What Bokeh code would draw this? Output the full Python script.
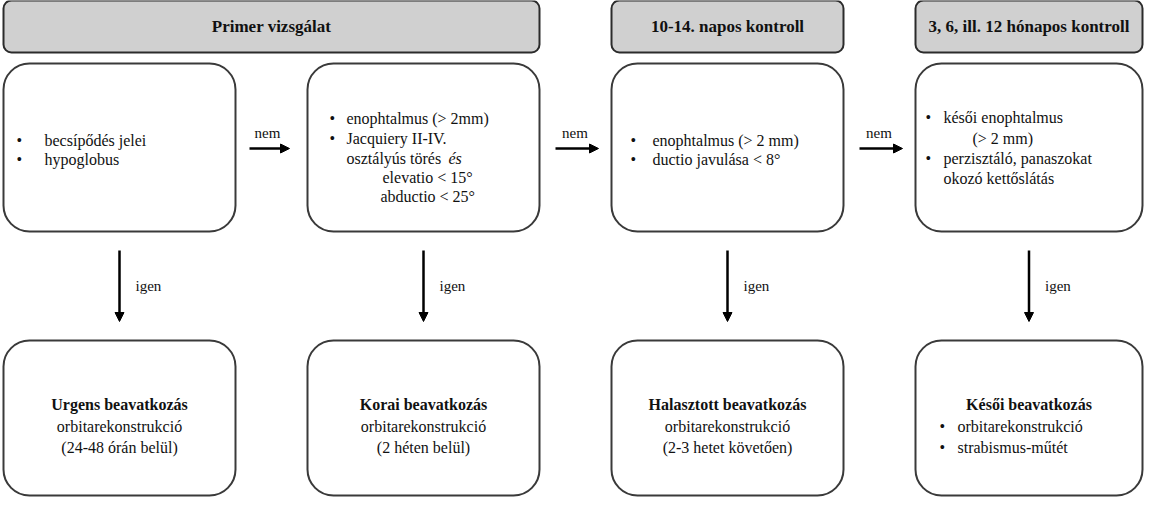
from bokeh.plotting import figure
from bokeh.models import BoxAnnotation, Arrow, NormalHead, Range1d
from bokeh.core.properties import value
from bokeh.embed import file_html
from bokeh.resources import INLINE

# ---------------- content ----------------
headers = ["Primer vizsgálat", "10-14. napos kontroll", "3, 6, ill. 12 hónapos kontroll"]
edge_labels_h = ["nem", "nem", "nem"]
edge_labels_v = ["igen", "igen", "igen", "igen"]

box1_items = ["becsípődés jelei", "hypoglobus"]
box2_items = ["enophtalmus (> 2mm)", "Jacquiery II-IV."]
box2_cont = "osztályús törés"
box2_italic = "és"
box2_sub = ["elevatio < 15°", "abductio < 25°"]
box3_items = ["enophtalmus (> 2 mm)", "ductio javulása < 8°"]
box4_items = ["késői enophtalmus", "perzisztáló, panaszokat"]
box4_cont = ["(> 2 mm)", "okozó kettőslátás"]

outcome_titles = ["Urgens beavatkozás", "Korai beavatkozás", "Halasztott beavatkozás", "Késői beavatkozás"]
outcome_lines = [["orbitarekonstrukció", "(24-48 órán belül)"],
                 ["orbitarekonstrukció", "(2 héten belül)"],
                 ["orbitarekonstrukció", "(2-3 hetet követően)"],
                 []]
outcome4_items = ["orbitarekonstrukció", "strabismus-műtét"]

# ---------------- layout (pixel coordinates of the page) ----------------
W, H = 1144, 497
col_left = [11, 315, 619, 923]
col_right = [243, 547, 851, 1150]
col_mid = [(a + b) / 2 for a, b in zip(col_left, col_right)]
head_spans = [(11, 547), (619, 851), (923, 1150)]
HEAD_T, HEAD_B = 8, 60
TOP_T, TOP_B = 71, 239
BOT_T, BOT_B = 348, 503

FONT = value("Liberation Serif")
p = figure(width=W, height=H, output_backend="svg", toolbar_location=None,
           x_range=Range1d(8, 8 + W), y_range=Range1d(8 + H, 8),
           min_border=0, outline_line_color=None)
p.axis.visible = False
p.grid.visible = False
p.background_fill_color = "white"

# headers
for (l, r) in head_spans:
    p.add_layout(BoxAnnotation(left=l, right=r, top=HEAD_T, bottom=HEAD_B,
                               fill_color="#d0d0d0", fill_alpha=1.0,
                               line_color="#2b2b2b", line_width=2, line_alpha=1.0,
                               border_radius=8, level="underlay"))
p.text(x=[(l + r) / 2 for l, r in head_spans], y=[(HEAD_T + HEAD_B) / 2] * 3, text=headers,
       text_font=FONT, text_font_style="bold", text_font_size="17px",
       text_align="center", text_baseline="middle", text_color="#111111")

# top row and bottom row boxes
for l, r in zip(col_left, col_right):
    for t, b in ((TOP_T, TOP_B), (BOT_T, BOT_B)):
        p.add_layout(BoxAnnotation(left=l, right=r, top=t, bottom=b,
                                   fill_color="white", fill_alpha=1.0,
                                   line_color="#3a3a3a", line_width=2, line_alpha=1.0,
                                   border_radius=26, level="underlay"))

def txt(xs, ys, texts, align="left", style="normal", size="16px"):
    p.text(x=xs, y=ys, text=texts, text_font=FONT, text_font_style=style,
           text_font_size=size, text_align=align, text_baseline="middle",
           text_color="#111111")

BUL = "•"
# box 1
txt([24, 24], [148, 167], [BUL, BUL])
txt([52, 52], [148, 167], box1_items)
# box 2
txt([337, 337], [126, 146], [BUL, BUL])
txt([354, 354], [126, 146], box2_items)
txt([354], [166], [box2_cont])
txt([456], [166], [box2_italic], style="italic")
txt([390, 388], [185, 204], box2_sub)
# box 3
txt([638, 638], [148, 167], [BUL, BUL])
txt([660, 660], [148, 167], box3_items)
# box 4
txt([933, 933], [125, 166], [BUL, BUL])
txt([951, 951], [125, 166], box4_items)
txt([980, 951], [146, 186], box4_cont)

# horizontal arrows with "nem"
h_arrows = [(257, 297), (563, 606), (867, 910)]
for (a, b) in h_arrows:
    p.add_layout(Arrow(x_start=a, y_start=156, x_end=b, y_end=156, line_width=2.5,
                       line_color="black",
                       end=NormalHead(size=9, fill_color="black", line_color="black")))
txt([(a + b) / 2 - 2 for a, b in h_arrows], [140] * 3, edge_labels_h, align="center", size="15px")

# vertical arrows with "igen"
for xm in col_mid:
    p.add_layout(Arrow(x_start=xm, y_start=258, x_end=xm, y_end=329, line_width=2.5,
                       line_color="black",
                       end=NormalHead(size=9, fill_color="black", line_color="black")))
txt([xm + 16 for xm in col_mid], [293] * 4, edge_labels_v, size="15px")

# bottom box texts
txt(col_mid, [412] * 4, outcome_titles, align="center", style="bold")
for i in range(3):
    txt([col_mid[i]] * 2, [434, 455], outcome_lines[i], align="center")
txt([947, 947], [434, 455], [BUL, BUL])
txt([965, 965], [434, 455], outcome4_items)

open("out.html", "w").write(file_html(p, INLINE))
